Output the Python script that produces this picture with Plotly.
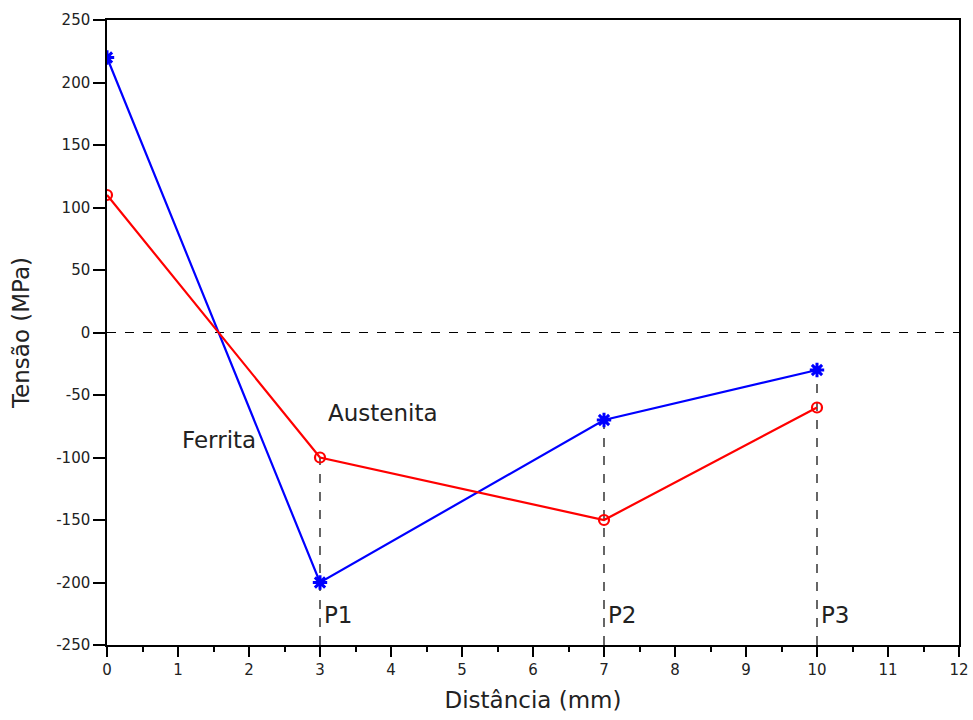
import plotly.graph_objects as go

# Distance along the specimen (mm) and residual stress per phase (MPa)
distance = [0, 3, 7, 10]
ferrita = [220, -200, -70, -30]
austenita = [110, -100, -150, -60]

# Measurement points marked by dashed guides
point_names = ["P1", "P2", "P3"]
point_x = [3, 7, 10]
point_top = [-100, -70, -30]

x_ticks = list(range(0, 13))
y_ticks = list(range(-250, 251, 50))
y_tick_text = [str(v) for v in y_ticks]  # plain hyphen for negatives

font = "DejaVu Sans, Verdana, sans-serif"
text_color = "#222222"

fig = go.Figure()

# zero-stress reference line
fig.add_trace(go.Scatter(
    x=[0, 12], y=[0, 0], mode="lines",
    line=dict(color="black", width=1.2, dash="dash"),
    hoverinfo="skip", showlegend=False,
))

# dashed verticals from the bottom axis up to each measurement point
for px, pt in zip(point_x, point_top):
    fig.add_trace(go.Scatter(
        x=[px, px], y=[-250, pt], mode="lines",
        line=dict(color="black", width=1.2, dash="dash"),
        hoverinfo="skip", showlegend=False,
    ))

fig.add_trace(go.Scatter(
    x=distance, y=ferrita, mode="lines+markers", name="Ferrita",
    line=dict(color="#0000ff", width=2.2),
    marker=dict(symbol="asterisk-open", size=12,
                line=dict(color="#0000ff", width=3)),
    showlegend=False,
))
fig.add_trace(go.Scatter(
    x=distance, y=austenita, mode="lines+markers", name="Austenita",
    line=dict(color="#ff0000", width=2.2),
    marker=dict(symbol="circle-open", size=10,
                line=dict(color="#ff0000", width=2.2)),
    showlegend=False,
))

label_font = dict(family=font, size=23, color=text_color)
fig.add_annotation(x=1.03, y=-86, text="Ferrita", showarrow=False,
                   xanchor="left", yanchor="middle", font=label_font)
fig.add_annotation(x=3.08, y=-64, text="Austenita", showarrow=False,
                   xanchor="left", yanchor="middle", font=label_font)
for name, px in zip(point_names, point_x):
    fig.add_annotation(x=px + 0.03, y=-226, text=name, showarrow=False,
                       xanchor="left", yanchor="middle", font=label_font)

axis_common = dict(
    showgrid=False, zeroline=False, automargin=False,
    showline=True, linecolor="black", linewidth=1.5, mirror=True,
    ticks="outside", tickcolor="black", tickwidth=1.5,
    tickfont=dict(family=font, size=15, color=text_color),
)

fig.update_xaxes(
    range=[0, 12], tickvals=x_ticks, ticklen=10,
    title=dict(text="Distância (mm)", font=dict(family=font, size=23, color=text_color),
               standoff=14),
    minor=dict(dtick=0.5, ticks="outside", ticklen=5, tickcolor="black", tickwidth=1.5),
    **axis_common,
)
fig.update_yaxes(
    range=[-250, 250], tickvals=y_ticks, ticktext=y_tick_text, ticklen=12,
    title=dict(text="Tensão (MPa)", font=dict(family=font, size=23, color=text_color),
               standoff=20),
    **axis_common,
)

fig.update_layout(
    width=973, height=720,
    margin=dict(l=107, r=14, t=20, b=75),
    paper_bgcolor="white", plot_bgcolor="white",
    font=dict(family=font),
)

fig.write_html("out.html")
